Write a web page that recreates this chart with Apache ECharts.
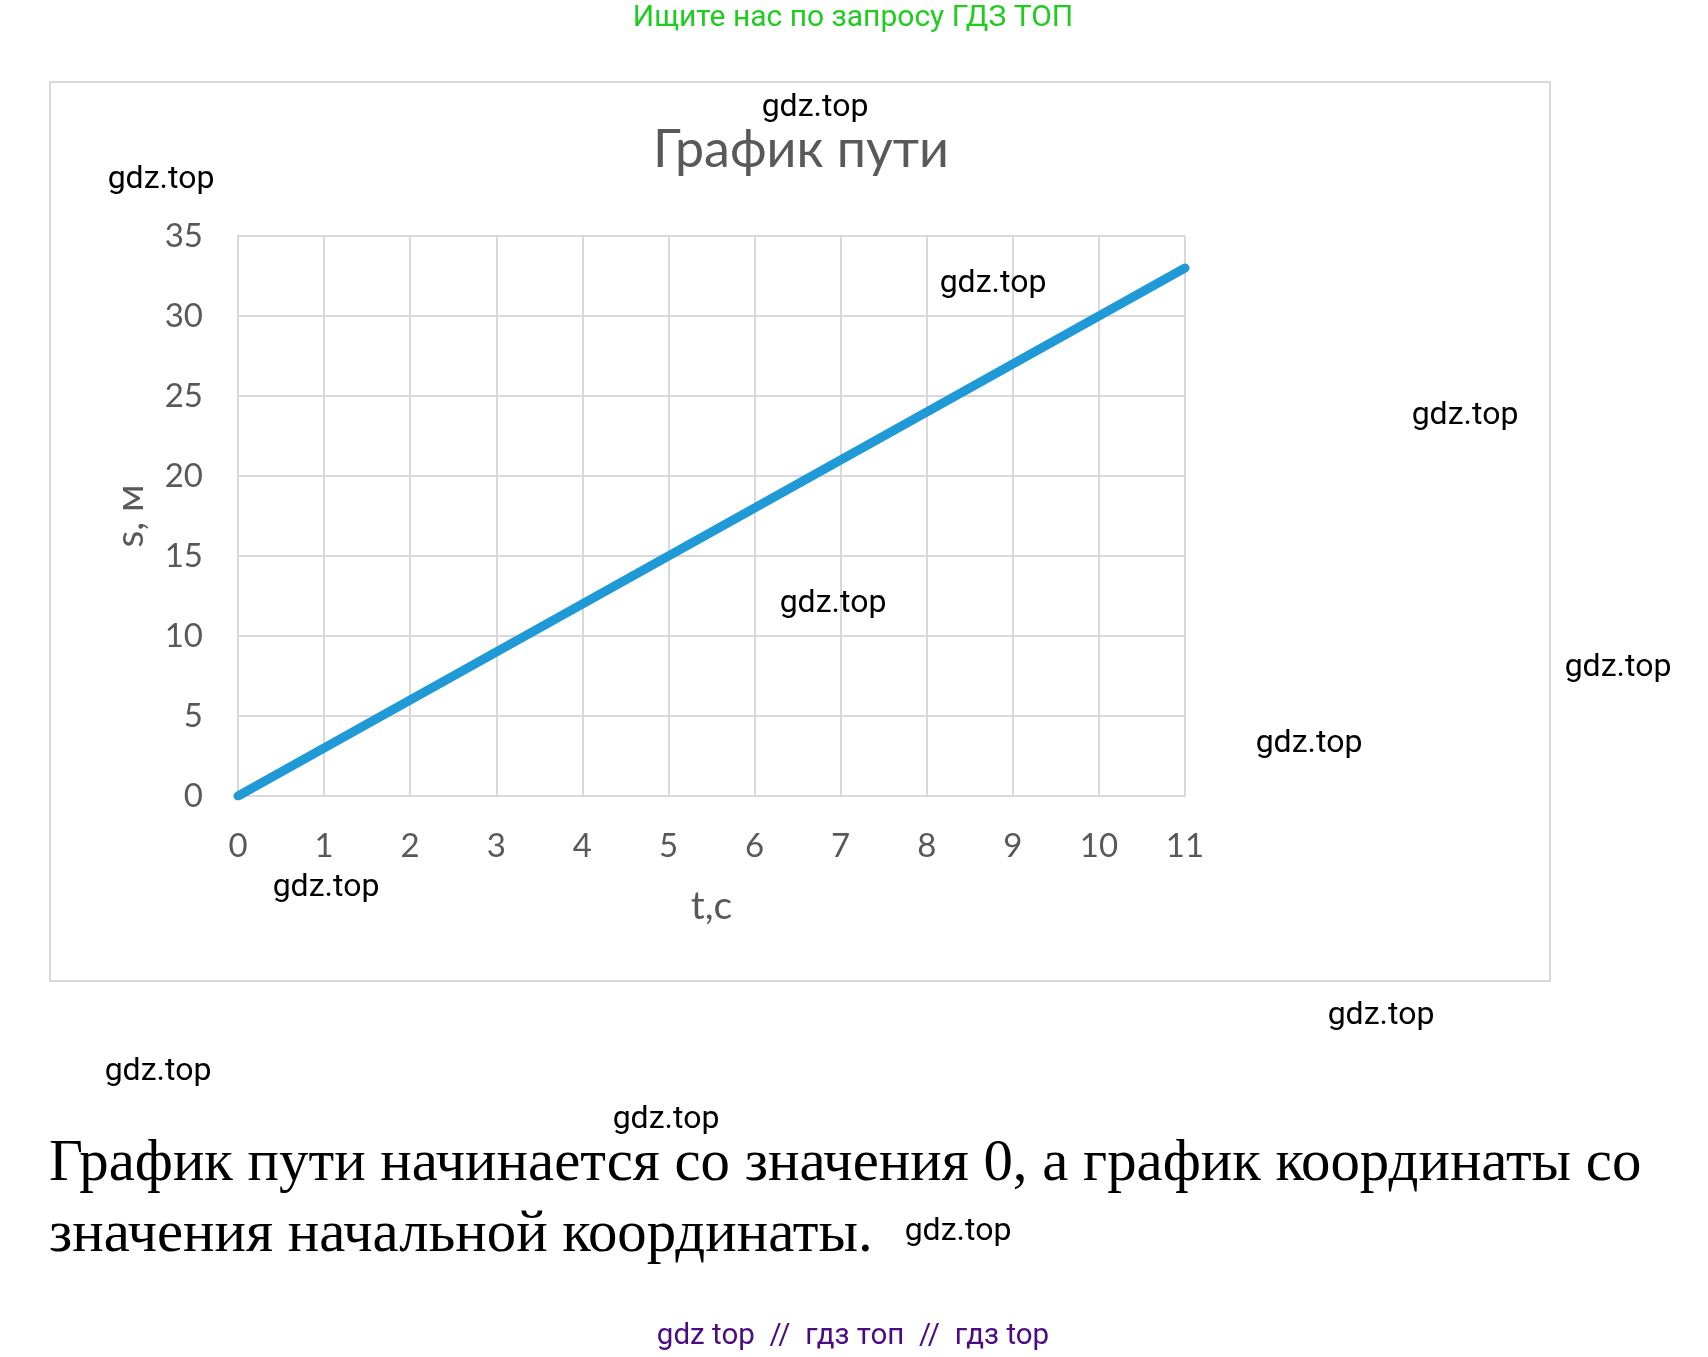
<!DOCTYPE html>
<html>
<head>
<meta charset="utf-8">
<script src="https://cdn.jsdelivr.net/npm/echarts@6/dist/echarts.min.js"></script>
<style>
html,body{margin:0;padding:0;background:#fff;}
#c{width:1708px;height:1357px;}
</style>
</head>
<body>
<div id="c"></div>
<script>
// Data
const timeValues = [0, 1, 2, 3, 4, 5, 6, 7, 8, 9, 10, 11];
const pathValues = [0, 3, 6, 9, 12, 15, 18, 21, 24, 27, 30, 33];
const chartTitle = 'График пути';
const xAxisName = 't,c';
const yAxisName = 's, м';
const headerText = 'Ищите нас по запросу ГДЗ ТОП';
const footerText = 'gdz top  //  гдз топ  //  гдз top';
const bodyLines = [
  'График пути начинается со значения 0, а график координаты со',
  'значения начальной координаты.'
];
const watermark = 'gdz.top';
const watermarkSpots = [
  [815, 124], [161, 196], [993, 300], [1465, 432], [833, 620], [1618, 684],
  [1309, 760], [326, 904], [1381, 1032], [158, 1088], [666, 1136], [958, 1248]
];

const chart = echarts.init(document.getElementById('c'), null, {renderer: 'canvas'});
const axisFont = 'Lato, "Open Sans", sans-serif';
const wmFont = 'Roboto, "Noto Sans", sans-serif';
const serifFont = '58.8px "Liberation Serif", "Times New Roman", serif';

const graphics = [
  {type: 'rect', shape: {x: 50, y: 82, width: 1500, height: 899}, style: {fill: 'none', stroke: '#d9d9d9', lineWidth: 2}, z: 0},
  {type: 'text', x: 853, y: 33, style: {text: headerText, fill: '#1fcc1f', font: '30px ' + wmFont, textAlign: 'center', textVerticalAlign: 'bottom'}},
  {type: 'text', x: 853, y: 1352, style: {text: footerText, fill: '#4b0c82', font: '29.5px ' + wmFont, textAlign: 'center', textVerticalAlign: 'bottom'}},
  {type: 'text', x: 49, y: 1194, style: {text: bodyLines[0], fill: '#000', font: serifFont, textAlign: 'left', textVerticalAlign: 'bottom'}},
  {type: 'text', x: 49, y: 1265, style: {text: bodyLines[1], fill: '#000', font: serifFont, textAlign: 'left', textVerticalAlign: 'bottom'}}
];
watermarkSpots.forEach(p => {
  graphics.push({type: 'text', x: p[0], y: p[1], z: 100, style: {text: watermark, fill: '#000', font: '32px ' + wmFont, textAlign: 'center', textVerticalAlign: 'bottom'}});
});

chart.setOption({
  animation: false,
  backgroundColor: '#fff',
  title: {
    text: chartTitle,
    left: 648, top: 119,
    textStyle: {fontFamily: axisFont, fontSize: 52, fontWeight: 'normal', color: '#595959'}
  },
  grid: {left: 238, right: 523, top: 236, bottom: 561, containLabel: false},
  xAxis: {
    type: 'value', min: 0, max: 11, interval: 1,
    name: xAxisName, nameLocation: 'middle', nameGap: 91,
    nameTextStyle: {fontFamily: axisFont, fontSize: 39, color: '#595959'},
    axisLine: {show: true, lineStyle: {color: '#d9d9d9', width: 2}},
    axisTick: {show: false},
    axisLabel: {fontFamily: axisFont, fontSize: 33, color: '#595959', margin: 34},
    splitLine: {show: true, lineStyle: {color: '#d9d9d9', width: 2}}
  },
  yAxis: {
    type: 'value', min: 0, max: 35, interval: 5,
    name: yAxisName, nameLocation: 'middle', nameGap: 88,
    nameTextStyle: {fontFamily: axisFont, fontSize: 39, color: '#595959'},
    axisLine: {show: true, lineStyle: {color: '#d9d9d9', width: 2}},
    axisTick: {show: false},
    axisLabel: {fontFamily: axisFont, fontSize: 33, color: '#595959', margin: 35},
    splitLine: {show: true, lineStyle: {color: '#d9d9d9', width: 2}}
  },
  series: [{
    type: 'line',
    data: timeValues.map((t, i) => [t, pathValues[i]]),
    showSymbol: false,
    lineStyle: {color: '#1f9ad6', width: 9, cap: 'round'},
    z: 3
  }],
  graphic: graphics
});
</script>
</body>
</html>
